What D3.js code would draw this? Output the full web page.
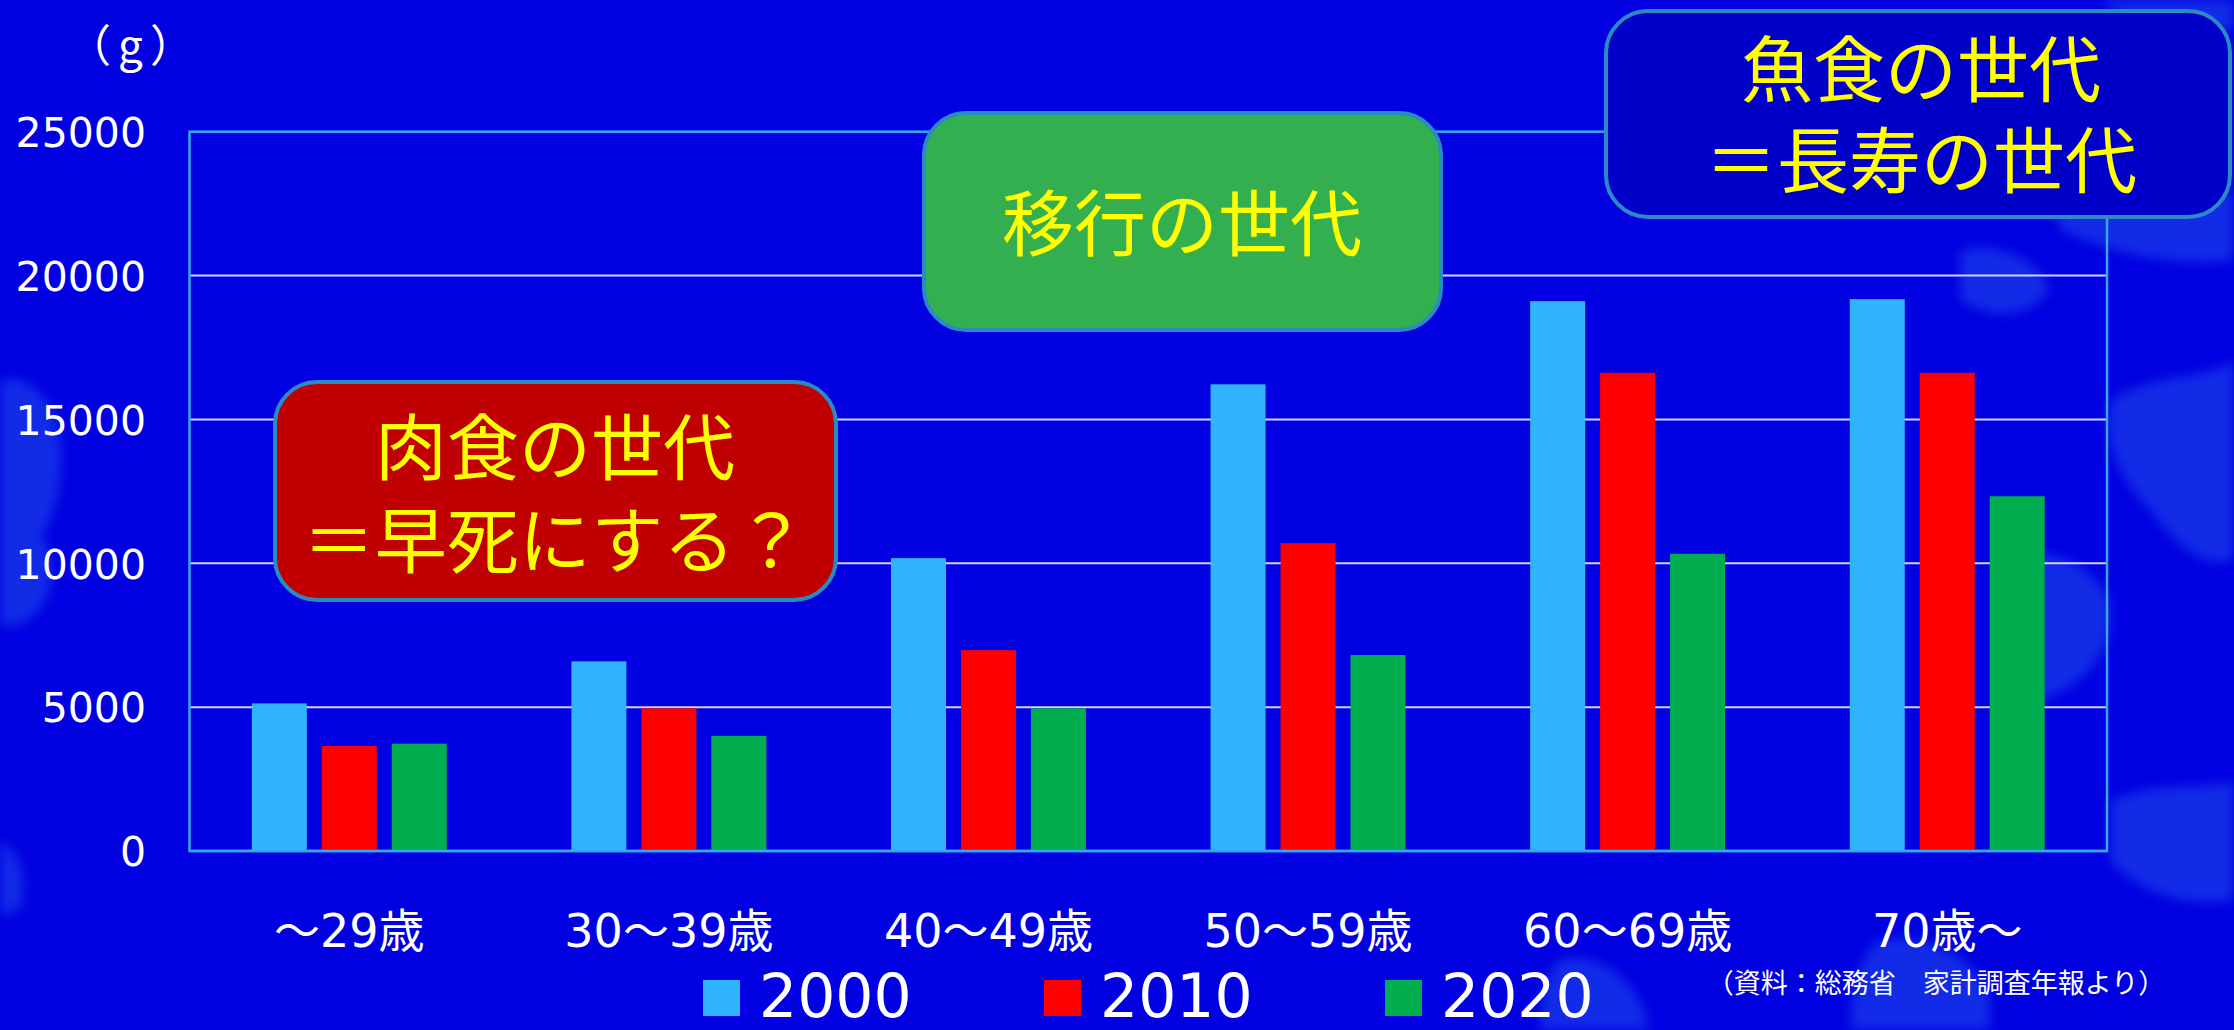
<!DOCTYPE html>
<html>
<head>
<meta charset="utf-8">
<script src="https://cdn.jsdelivr.net/npm/d3@7"></script>
<style>
  html, body { margin: 0; padding: 0; background: #0000E0; overflow: hidden; }
  svg { display: block; }
</style>
</head>
<body>
<svg id="chart" width="2234" height="1030"></svg>
<script>
// ---- data ----
const categories = ["～29歳", "30～39歳", "40～49歳", "50～59歳", "60～69歳", "70歳～"];
const seriesNames = ["2000", "2010", "2020"];
const values2000 = [5130, 6590, 10180, 16220, 19110, 19180];
const values2010 = [3650, 4960, 6980, 10700, 16620, 16620];
const values2020 = [3730, 4000, 4960, 6810, 10330, 12330];
const yTicks = [0, 5000, 10000, 15000, 20000, 25000];
const unitLabel = "（g）";
const sourceNote = "（資料：総務省　家計調査年報より）";
const noteMeat = ["肉食の世代", "＝早死にする？"];
const noteTransition = ["移行の世代"];
const noteFish = ["魚食の世代", "＝長寿の世代"];

const seriesValues = [values2000, values2010, values2020];
const seriesColors = ["#30B4FF", "#FF0000", "#00AE50"];

// ---- layout ----
(function () {
const W = 2234, H = 1030;
const pLeft = 189.5, pRight = 2107, pTop = 131.7, pBottom = 851;
const FONT = "'Noto Sans CJK JP', 'Noto Sans', sans-serif";
const NUMFONT = "'DejaVu Sans', 'Noto Sans CJK JP', sans-serif";

const svg = d3.select("#chart");

// background
svg.append("rect").attr("width", W).attr("height", H).attr("fill", "#0000E0");

// faint decorative background shapes
const defs = svg.append("defs");
defs.append("filter").attr("id", "soft").attr("x", "-30%").attr("y", "-30%").attr("width", "160%").attr("height", "160%")
  .append("feGaussianBlur").attr("stdDeviation", 6);
const deco = svg.append("g").attr("filter", "url(#soft)").attr("fill", "#2F6CF2").attr("opacity", 0.4);
const blobs = [
  "M0,380 C40,370 70,420 60,480 C55,530 30,560 0,570 Z",
  "M0,520 C30,510 60,540 50,590 C40,620 15,630 0,625 Z",
  "M0,840 C20,850 30,880 20,910 L0,915 Z",
  "M2050,180 C2120,170 2200,200 2234,190 L2234,260 C2180,270 2100,250 2060,230 Z",
  "M2110,400 C2160,370 2210,380 2234,360 L2234,560 C2200,570 2170,540 2150,510 C2120,480 2100,440 2110,400 Z",
  "M2000,560 C2040,540 2090,560 2110,600 C2120,650 2080,690 2040,700 C2010,690 1990,620 2000,560 Z",
  "M2110,800 C2160,780 2210,790 2234,780 L2234,900 C2190,910 2130,890 2110,860 Z",
  "M1880,940 C1930,930 1980,960 1990,1000 L1990,1030 L1850,1030 C1850,990 1860,950 1880,940 Z",
  "M2100,0 L2234,0 L2234,30 C2190,40 2130,30 2100,0 Z",
  "M1960,250 C2000,240 2040,260 2050,290 C2030,320 1990,320 1960,300 Z",
  "M1560,960 C1600,950 1640,980 1650,1030 L1540,1030 C1540,1000 1545,970 1560,960 Z"
];
deco.selectAll("path").data(blobs).join("path").attr("d", d => d);

// scales
const x0 = d3.scaleBand().domain(categories).range([pLeft, pRight]).paddingInner(0.39).paddingOuter(0.195);
const x1 = d3.scaleBand().domain(seriesNames).range([0, x0.bandwidth()]).paddingInner(0.214).paddingOuter(0);
const y = d3.scaleLinear().domain([0, 25000]).range([pBottom, pTop]);

// gridlines
svg.append("g").selectAll("line").data(yTicks.filter(t => t > 0 && t < 25000)).join("line")
  .attr("x1", pLeft).attr("x2", pRight)
  .attr("y1", d => y(d)).attr("y2", d => y(d))
  .attr("stroke", "#D4D4FF").attr("stroke-width", 2);

// plot frame
svg.append("rect").attr("x", pLeft).attr("y", y(25000))
  .attr("width", pRight - pLeft).attr("height", y(0) - y(25000))
  .attr("fill", "none").attr("stroke", "#36A8F2").attr("stroke-width", 2.5);

// bars
const groups = svg.append("g").selectAll("g").data(categories).join("g")
  .attr("transform", d => `translate(${x0(d)},0)`);
groups.selectAll("rect")
  .data((c, i) => seriesNames.map((s, k) => ({ s, v: seriesValues[k][i], color: seriesColors[k] })))
  .join("rect")
  .attr("x", d => x1(d.s))
  .attr("width", x1.bandwidth())
  .attr("y", d => y(d.v))
  .attr("height", d => y(0) - y(d.v))
  .attr("fill", d => d.color);

// redraw bottom axis line on top of bars
svg.append("line").attr("x1", pLeft).attr("x2", pRight).attr("y1", y(0)).attr("y2", y(0))
  .attr("stroke", "#36A8F2").attr("stroke-width", 2.5);

// y axis
const yAxis = svg.append("g").attr("transform", `translate(${pLeft},0)`)
  .call(d3.axisLeft(y).tickValues(yTicks).tickSize(0).tickPadding(43.5).tickFormat(d3.format("d")));
yAxis.select(".domain").remove();
yAxis.selectAll("text").attr("fill", "#FFFFFF").attr("font-family", NUMFONT).attr("font-size", 41)
  .attr("dy", "0.36em");

// x axis
const xAxis = svg.append("g").attr("transform", `translate(0,${pBottom})`)
  .call(d3.axisBottom(x0).tickSize(0));
xAxis.select(".domain").remove();
xAxis.selectAll("text").attr("fill", "#FFFFFF").attr("font-family", NUMFONT).attr("font-size", 46)
  .attr("y", 96).attr("dy", null);

// unit label
svg.append("text").attr("x", 134).attr("y", 62).attr("text-anchor", "middle")
  .attr("fill", "#FFFFFF").attr("font-family", FONT).attr("font-size", 44)
  .attr("letter-spacing", 7).text(unitLabel);

// legend
const legend = svg.append("g").selectAll("g").data(seriesNames).join("g")
  .attr("transform", (d, i) => `translate(${703 + i * 341},0)`);
legend.append("rect").attr("x", 0).attr("y", 980).attr("width", 37).attr("height", 36)
  .attr("fill", (d, i) => seriesColors[i]);
legend.append("text").attr("x", 56).attr("y", 1017).attr("fill", "#FFFFFF")
  .attr("font-family", NUMFONT).attr("font-size", 60).text(d => d);

// source note
svg.append("text").attr("x", 1936).attr("y", 993).attr("text-anchor", "middle")
  .attr("fill", "#FFFFFF").attr("font-family", FONT).attr("font-size", 27).text(sourceNote);

// annotation boxes (baseline placed so ideographs sit centred on the given line centre)
function box(x, yy, w, h, fill, lines, cx, lineYs) {
  const g = svg.append("g");
  g.append("rect").attr("x", x).attr("y", yy).attr("width", w).attr("height", h)
    .attr("rx", 42).attr("ry", 42)
    .attr("fill", fill).attr("stroke", "#2A8BC4").attr("stroke-width", 4);
  g.selectAll("text").data(lines).join("text")
    .attr("x", cx).attr("y", (d, i) => lineYs[i] + 0.38 * 72)
    .attr("text-anchor", "middle")
    .attr("fill", "#FFFF00").attr("font-family", NUMFONT).attr("font-size", 72)
    .text(d => d);
}
box(275, 382, 561, 218, "#C00000", noteMeat, 555, [447, 540]);
box(924, 113, 517, 217, "#33AF50", noteTransition, 1182, [223]);
box(1606, 11, 624, 206, "#0000C8", noteFish, 1921, [69, 160]);
})();
</script>
</body>
</html>
